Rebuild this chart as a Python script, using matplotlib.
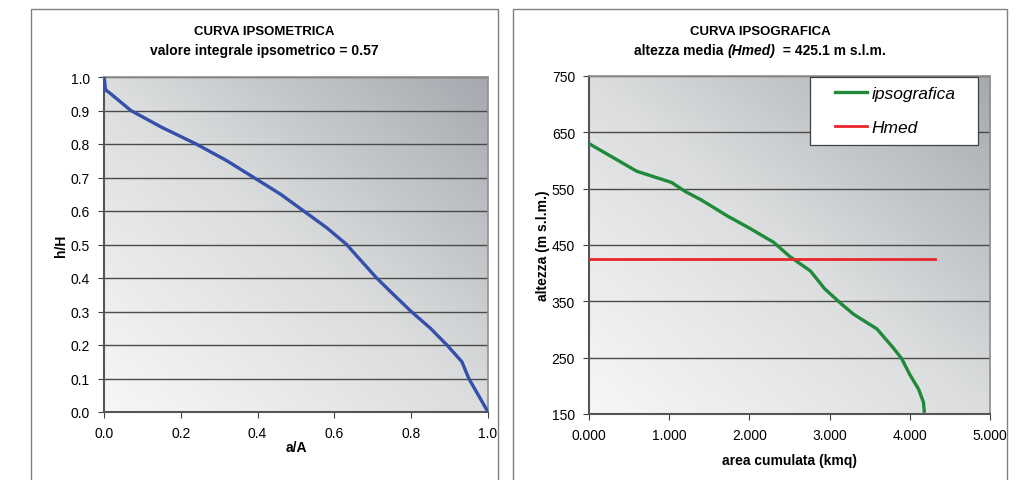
import matplotlib
matplotlib.use('Agg')
import matplotlib.pyplot as plt
import numpy as np
from matplotlib.patches import Rectangle
from matplotlib.offsetbox import TextArea, HPacker, AnchoredOffsetbox

plt.rcParams['font.family'] = ['Liberation Sans', 'DejaVu Sans']

# curva ipsometrica (a/A, h/H)
ips_a = [0.0, 0.002, 0.003, 0.005, 0.012, 0.07, 0.15, 0.24, 0.32, 0.39, 0.46, 0.52, 0.58,
         0.632, 0.655, 0.71, 0.75, 0.80, 0.85, 0.893, 0.932, 0.95, 0.975, 1.0]
ips_h = [1.0, 0.985, 0.97, 0.96, 0.955, 0.90, 0.85, 0.80, 0.75, 0.70, 0.65, 0.60, 0.55,
         0.50, 0.47, 0.40, 0.355, 0.30, 0.25, 0.20, 0.15, 0.10, 0.05, 0.0]

# curva ipsografica (area cumulata kmq, altezza m s.l.m.)
area = [0.0, 0.594, 1.03, 1.2, 1.40, 1.72, 2.0, 2.30, 2.5, 2.76, 2.94, 3.15, 3.30,
        3.59, 3.79, 3.90, 4.0, 4.11, 4.17, 4.18]
altezza = [630, 581, 561, 545, 530, 502, 480, 455, 430, 404, 372, 345, 327,
           301, 268, 248, 220, 194, 171, 155]
hmed = 425.1
hmed_x = [0.0, 4.31]

fig = plt.figure(figsize=(10.31, 4.81), dpi=100)
W, H = 1031, 481

# cornici dei due pannelli
for x0, x1 in [(31, 498), (513, 1007)]:
    fig.patches.append(Rectangle((x0 / W, -0.1), (x1 - x0) / W, 1.1 - 10 / H,
                                 transform=fig.transFigure, fill=False,
                                 edgecolor='#808080', linewidth=1.0))

# sfondo sfumato (chiaro in basso a sinistra, scuro in alto a destra)
gx, gy = np.meshgrid(np.linspace(0, 1, 200), np.linspace(0, 1, 200))
t = (gx + gy) / 2.0
stops = [0.0, 0.5, 1.0]
cols = np.array([[248, 247, 246], [219, 221, 222], [165, 169, 175]]) / 255.0
img = np.stack([np.interp(t, stops, cols[:, k]) for k in range(3)], axis=-1)


def style(ax):
    ax.imshow(img, extent=[0, 1, 0, 1], transform=ax.transAxes, origin='lower',
              aspect='auto', zorder=0)
    ax.grid(axis='y', color='#4a4a4a', linewidth=1.0, zorder=1)
    ax.set_axisbelow(True)
    for s in ['top', 'right']:
        ax.spines[s].set_color('#909090')
        ax.spines[s].set_linewidth(1.2)
    for s in ['left', 'bottom']:
        ax.spines[s].set_color('#555555')
        ax.spines[s].set_linewidth(1.5)
    ax.tick_params(labelsize=10, length=4, color='#404040', pad=6)


ax1 = fig.add_axes([104 / W, 1 - 413 / H, (488 - 104) / W, (413 - 78) / H])
style(ax1)
ax1.plot(ips_a, ips_h, color='#3550aa', linewidth=2.4, zorder=3)
ax1.set_xlim(0, 1)
ax1.set_ylim(0, 1)
ax1.set_xticks(np.arange(0, 1.01, 0.2))
ax1.set_yticks(np.arange(0, 1.01, 0.1))
ax1.xaxis.set_major_formatter(plt.FormatStrFormatter('%.1f'))
ax1.yaxis.set_major_formatter(plt.FormatStrFormatter('%.1f'))
ax1.set_xlabel('a/A', fontsize=10, fontweight='bold', labelpad=0)
ax1.set_ylabel('h/H', fontsize=10, fontweight='bold', labelpad=2)
fig.text((31 + 498) / 2 / W, 1 - 32 / H, 'CURVA IPSOMETRICA', ha='center', va='center',
         fontsize=9.5, fontweight='bold')
fig.text((31 + 498) / 2 / W, 1 - 51 / H, 'valore integrale ipsometrico = 0.57', ha='center',
         va='center', fontsize=10, fontweight='bold')

ax2 = fig.add_axes([589 / W, 1 - 415 / H, (990 - 589) / W, (415 - 77) / H])
style(ax2)
ax2.plot(area, altezza, color='#1f8a3a', linewidth=2.4, zorder=3, label='ipsografica')
ax2.plot(hmed_x, [hmed, hmed], color='#e8252b', linewidth=2.0, zorder=3, label='Hmed')
ax2.set_xlim(0, 5)
ax2.set_ylim(150, 750)
ax2.set_xticks(np.arange(0, 5.01, 1))
ax2.set_yticks(np.arange(150, 751, 100))
ax2.xaxis.set_major_formatter(plt.FormatStrFormatter('%.3f'))
ax2.set_xlabel('area cumulata (kmq)', fontsize=10, fontweight='bold', labelpad=8)
ax2.set_ylabel('altezza (m s.l.m.)', fontsize=10, fontweight='bold', labelpad=1.5)

# riquadro della legenda
ax2.add_patch(Rectangle(((810 - 589) / 401, (415 - 146) / 338), (978 - 810) / 401,
                        (146 - 78) / 338, transform=ax2.transAxes, facecolor='white',
                        edgecolor='#404040', linewidth=0.9, zorder=4))
leg = ax2.legend(loc='center',
                 bbox_to_anchor=((895.5 - 589) / 401, (415 - 111.5) / 338),
                 prop={'style': 'italic', 'size': 12.5}, frameon=False,
                 handlelength=1.8, borderpad=0.0, labelspacing=1.05,
                 handletextpad=0.3, borderaxespad=0.0)
leg.set_zorder(5)
fig.text((513 + 1007) / 2 / W, 1 - 32 / H, 'CURVA IPSOGRAFICA', ha='center', va='center',
         fontsize=9.5, fontweight='bold')

# sottotitolo con la parte "(Hmed)" in corsivo
tprops = dict(fontsize=10, fontweight='bold')
parts = [TextArea('altezza media ', textprops=tprops),
         TextArea('(Hmed)', textprops=dict(tprops, style='italic')),
         TextArea('  = 425.1 m s.l.m.', textprops=tprops)]
box = HPacker(children=parts, align='baseline', pad=0, sep=0)
anch = AnchoredOffsetbox(loc='center', child=box, frameon=False, pad=0, borderpad=0,
                         bbox_to_anchor=((513 + 1007) / 2 / W, 1 - 51 / H),
                         bbox_transform=fig.transFigure)
fig.add_artist(anch)

fig.savefig('out.png', dpi=100)
